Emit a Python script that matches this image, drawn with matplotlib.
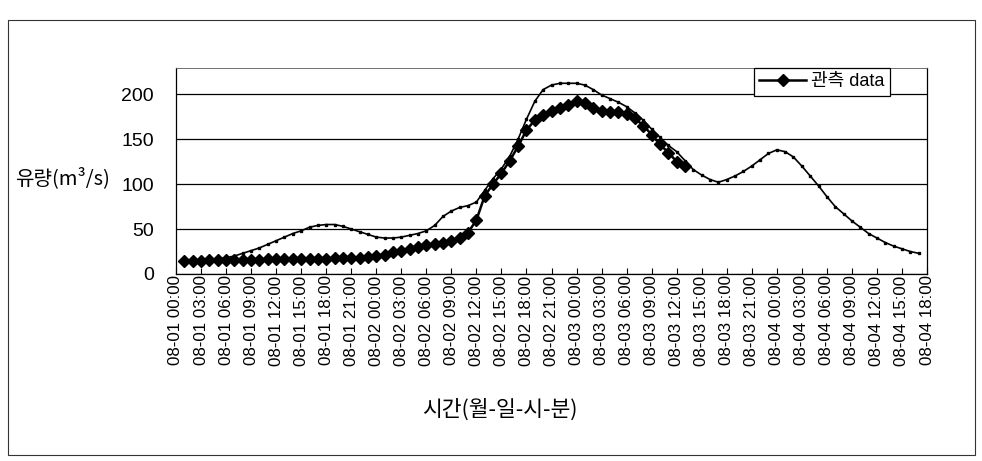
import matplotlib.pyplot as plt
from matplotlib.patches import Rectangle

plt.rcParams['font.family'] = ['Liberation Sans', 'Noto Sans CJK KR', 'DejaVu Sans']

# hourly values (hour 0 = 08-01 00:00)
obs_hours = list(range(1, 62))
obs_flow = [15, 15, 15, 16, 16, 16, 16, 16, 16, 16,
            17, 17, 17, 17, 17, 17, 17, 17, 18, 18,
            18, 18, 19, 20, 21, 24, 26, 28, 30, 32,
            33, 35, 37, 40, 46, 60, 87, 100, 112, 126,
            142, 160, 171, 177, 181, 184, 188, 192, 190, 184,
            181, 180, 180, 178, 173, 165, 155, 144, 135, 125,
            120]

sim_hours = list(range(1, 90))
sim_flow = [15, 15, 16, 16, 17, 18, 20, 23, 26, 29,
            33, 37, 41, 45, 48, 52, 54, 55, 55, 53,
            50, 47, 44, 41, 40, 40, 41, 43, 45, 48,
            54, 64, 70, 74, 76, 80, 93, 106, 117, 131,
            150, 172, 192, 205, 210, 212, 212, 212, 210, 205,
            199, 195, 191, 186, 179, 171, 161, 152, 143, 136,
            126, 116, 110, 105, 102, 105, 109, 114, 120, 127,
            134, 138, 136, 130, 120, 109, 98, 86, 75, 67,
            59, 52, 45, 40, 35, 31, 28, 25, 23]

tick_hours = list(range(0, 91, 3))
tick_labels = [f"08-0{1 + h // 24} {h % 24:02d}:00" for h in tick_hours]
y_ticks = [0, 50, 100, 150, 200]

fig = plt.figure(figsize=(9.82, 4.61), dpi=100)
ax = fig.add_axes([176 / 982, 1 - 274 / 461, 751 / 982, 206 / 461])

ax.plot(sim_hours, sim_flow, color='black', lw=1.2, marker='s', ms=1.8,
        label='_nolegend_', zorder=3)
ax.plot(obs_hours, obs_flow, color='black', lw=1.8, marker='D', ms=6,
        label='관측 data', zorder=4)

ax.set_xlim(0, 90)
ax.set_ylim(0, 229)
ax.set_yticks(y_ticks)
ax.set_xticks(tick_hours)
ax.set_xticklabels(tick_labels, rotation=90, fontsize=12.2)
ax.tick_params(axis='x', direction='in', length=4, width=0.8, pad=1)
ax.tick_params(axis='y', length=0, pad=16, labelsize=14)
ax.yaxis.grid(True, color='black', lw=0.9)
ax.set_axisbelow(True)
for s in ax.spines.values():
    s.set_color('black')
    s.set_linewidth(0.9)
ax.spines['top'].set_linewidth(0.6)
ax.spines['top'].set_color('0.35')

leg = ax.legend(loc='upper right', bbox_to_anchor=(0.951, 1.0), borderaxespad=0,
                fontsize=13, frameon=True, fancybox=False, handlelength=2.6,
                borderpad=0.3, handletextpad=0.3)
leg.get_frame().set_edgecolor('black')
leg.get_frame().set_linewidth(0.9)
leg.get_frame().set_alpha(1)

fig.text(15 / 982, 1 - 178 / 461, '유량(m³/s)', fontsize=14.5, ha='left', va='center',
         family=['Noto Sans CJK KR', 'DejaVu Sans'])
fig.text(500 / 982, 1 - 410 / 461, '시간(월-일-시-분)', fontsize=15.5, ha='center', va='center',
         family=['Noto Sans CJK KR', 'DejaVu Sans'])

# outer chart frame
fig.patches.append(Rectangle((8 / 982, 1 - 455 / 461), 967 / 982, 435 / 461,
                             transform=fig.transFigure, fill=False,
                             edgecolor='0.2', lw=0.8))

fig.savefig('out.png', dpi=100)
